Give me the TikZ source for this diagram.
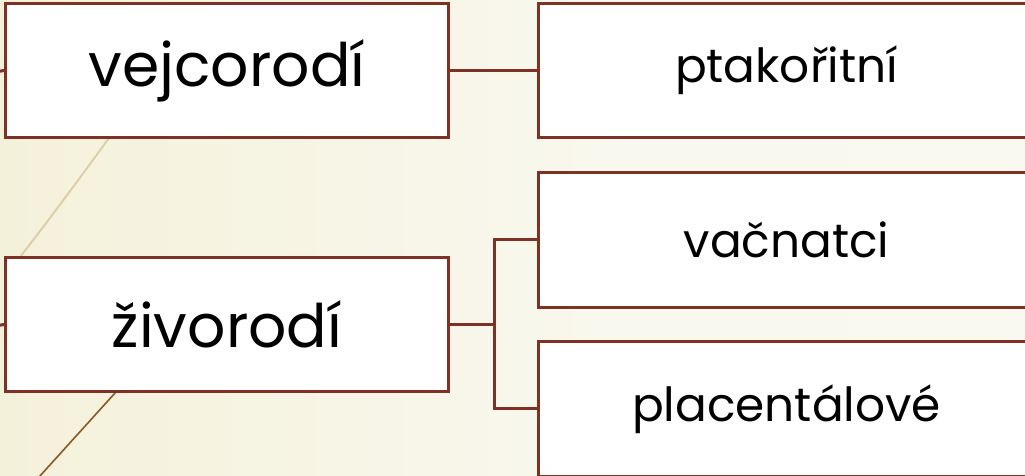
\documentclass[tikz,border=0pt]{standalone}
\usepackage{fontspec}
\setmainfont{Poppins}
\definecolor{boxline}{HTML}{7E3124}
\definecolor{bgA}{HTML}{F0EACA}
\definecolor{bgB}{HTML}{F5F2DE}
\definecolor{bgC}{HTML}{F9F8EE}
\definecolor{bgD}{HTML}{FBFAF4}
\definecolor{tanline}{HTML}{DDD0A8}
\definecolor{brownline}{HTML}{8A5A22}
\pgfdeclarehorizontalshading{bgshade}{100bp}{color(0bp)=(bgA); color(30bp)=(bgB); color(55bp)=(bgC); color(100bp)=(bgD)}
\begin{document}
\begin{tikzpicture}[x=1pt,y=1pt,
  box/.style={draw=boxline,line width=3pt,fill=white,inner sep=0pt,anchor=south west},
  conn/.style={draw=boxline,line width=3pt},
  bigtext/.style={font=\fontsize{60}{64}\selectfont},
  smalltext/.style={font=\fontsize{47}{50}\selectfont}]
\useasboundingbox (0,0) rectangle (1025,476);
\begin{scope}
\clip (0,0) rectangle (1025,476);
\shade[shading=bgshade] (0,0) rectangle (1025,476);
% decorative background lines
\draw[tanline,line width=2pt] (125,360) .. controls (85,305) and (45,250) .. (5,200);
\draw[brownline,line width=1.6pt] (125,94) -- (30,-11);
% connectors
\coordinate (sa) at (-5,404);
\coordinate (sb) at (-5,150);
\node[box,minimum width=443pt,minimum height=134pt,bigtext] (A) at (4,337) {vejcorodí};
\node[box,minimum width=443pt,minimum height=134pt,bigtext] (B) at (4,83) {živorodí};
\node[box,minimum width=496pt,minimum height=134pt,smalltext] (C) at (537,337) {ptakořitní};
\node[box,minimum width=496pt,minimum height=135pt,smalltext] (D) at (537,167) {vačnatci};
\node[box,minimum width=496pt,minimum height=135pt,smalltext] (E) at (537,-2) {placentálové};
\draw[conn] (sa) -- (A.west);
\draw[conn] (sb) -- (B.west);
\draw[conn] (A.east) -- (C.west);
\draw[conn] (B.east) -- ++(44,0) coordinate (m);
\draw[conn] (D.west) -| (m) |- (E.west);
\end{scope}
\end{tikzpicture}
\end{document}
